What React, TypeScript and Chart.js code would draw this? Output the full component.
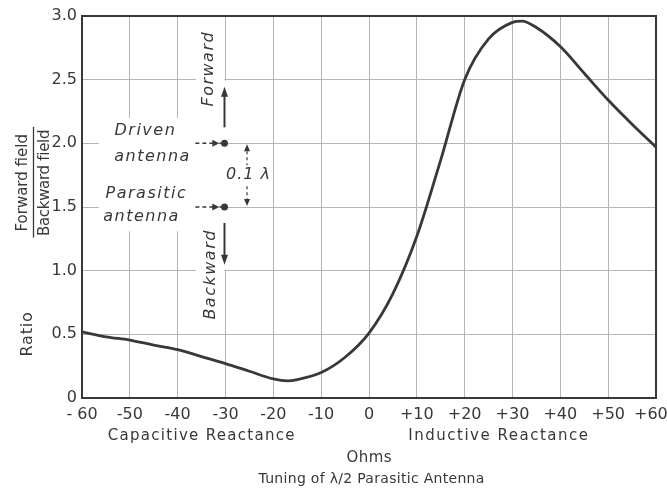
import React, { useEffect, useRef } from "react";
import { Chart, registerables } from "chart.js";

Chart.register(...registerables);

// ---- data ----
const reactanceOhms = [-60, -55, -50, -45, -40, -35, -30, -25, -20, -17, -15, -10, -5, 0, 5, 10, 15, 20, 25, 30, 32, 35, 40, 45, 50, 55, 60];
const ratioValues = [0.52, 0.48, 0.455, 0.415, 0.38, 0.325, 0.27, 0.21, 0.15, 0.135, 0.145, 0.2, 0.32, 0.51, 0.82, 1.27, 1.87, 2.5, 2.82, 2.95, 2.96, 2.91, 2.76, 2.55, 2.34, 2.15, 1.97];
const xTickValues = [-60, -50, -40, -30, -20, -10, 0, 10, 20, 30, 40, 50, 60];
const xTickLabels = ["- 60", "-50", "-40", "-30", "-20", "-10", "0", "+10", "+20", "+30", "+40", "+50", "+60  "];
const yTickValues = [0, 0.5, 1, 1.5, 2, 2.5, 3];
const yTickLabels = ["0", "0.5", "1.0", "1.5", "2.0", "2.5", "3.0"];
const reactanceLabels = ["Capacitive Reactance", "Inductive Reactance"];
const unitLabel = "Ohms";
const captionLabel = "Tuning of λ/2 Parasitic Antenna";
const ratioTitle = "Ratio";
const fractionTop = "Forward field";
const fractionBottom = "Backward field";
const driverLabel = ["Driven", "antenna"];
const parasiticLabel = ["Parasitic", "antenna"];
const forwardLabel = "Forward";
const backwardLabel = "Backward";
const spacingLabel = "0.1 λ";

const INK = "#383838";
const GRID = "#b4b4b4";
const FONT = "'DejaVu Sans', sans-serif";
const TICKFONT = "'DejaVu Sans', sans-serif";

function drawText(ctx: CanvasRenderingContext2D, text: string, x: number, y: number, font: string, spacing: number, rot = 0) {
  ctx.save();
  ctx.font = font;
  (ctx as any).letterSpacing = spacing + "px";
  ctx.fillStyle = INK;
  ctx.textAlign = "center";
  ctx.textBaseline = "middle";
  ctx.translate(x, y);
  if (rot) ctx.rotate(rot);
  ctx.fillText(text, spacing / 2, 0);
  ctx.restore();
}

function arrowHead(ctx: CanvasRenderingContext2D, tx: number, ty: number, dx: number, dy: number, len: number, half: number) {
  const bx = tx - dx * len, by = ty - dy * len;
  const px = -dy, py = dx;
  ctx.beginPath();
  ctx.moveTo(tx, ty);
  ctx.lineTo(bx + px * half, by + py * half);
  ctx.lineTo(bx - px * half, by - py * half);
  ctx.closePath();
  ctx.fill();
}

const annotationPlugin = {
  id: "annotations",
  afterDraw(chart: any) {
    const ctx: CanvasRenderingContext2D = chart.ctx;
    const xs = chart.scales.x;
    const ys = chart.scales.y;
    const X = (v: number) => xs.getPixelForValue(v);
    const Y = (v: number) => ys.getPixelForValue(v);
    const area = chart.chartArea;

    ctx.save();
    ctx.fillStyle = "#ffffff";
    ctx.fillRect(X(-56.5), Y(2.2), X(-36.2) - X(-56.5), Y(1.31) - Y(2.2));
    ctx.fillRect(X(-36.2), Y(2.5) - 1.5, X(-30) - 1 - X(-36.2), Y(1.0) - Y(2.5) + 3);
    ctx.fillRect(X(-30) - 2, Y(2.5) + 1, 4, Y(1.0) - Y(2.5) - 2);

    ctx.strokeStyle = INK;
    ctx.lineWidth = 2;
    ctx.beginPath();
    ctx.moveTo(area.left, area.top);
    ctx.lineTo(area.right, area.top);
    ctx.lineTo(area.right, area.bottom);
    ctx.stroke();

    ctx.fillStyle = INK;
    ctx.strokeStyle = INK;

    const itf = "italic 16px " + FONT;
    drawText(ctx, forwardLabel, X(-33.5), Y(2.58), itf, 1.5, -Math.PI / 2);
    drawText(ctx, backwardLabel, X(-33.1), Y(0.965), itf, 1.5, -Math.PI / 2);

    drawText(ctx, driverLabel[0], X(-46.9), Y(2.1), itf, 1.5);
    drawText(ctx, driverLabel[1], X(-45.4), Y(1.89), itf, 1.5);
    drawText(ctx, parasiticLabel[0], X(-46.7), Y(1.6), itf, 1.5);
    drawText(ctx, parasiticLabel[1], X(-47.7), Y(1.42), itf, 1.5);

    const ax = X(-30) - 1;
    ctx.lineWidth = 2;
    ctx.beginPath();
    ctx.moveTo(ax, Y(2.0) - 16);
    ctx.lineTo(ax, Y(2.5) + 14);
    ctx.stroke();
    arrowHead(ctx, ax, Y(2.5) + 7, 0, -1, 10, 3.5);
    ctx.beginPath();
    ctx.moveTo(ax, Y(1.5) + 16);
    ctx.lineTo(ax, Y(1.0) - 13);
    ctx.stroke();
    arrowHead(ctx, ax, Y(1.0) - 6, 0, 1, 10, 3.5);

    [2.0, 1.5].forEach((lv) => {
      const yy = Y(lv);
      ctx.lineWidth = 1.5;
      ctx.setLineDash([4, 3]);
      ctx.beginPath();
      ctx.moveTo(X(-36.3), yy);
      ctx.lineTo(X(-32.3), yy);
      ctx.stroke();
      ctx.setLineDash([]);
      arrowHead(ctx, X(-31.3), yy, 1, 0, 7, 3.5);
      ctx.beginPath();
      ctx.moveTo(X(-31.3), yy);
      ctx.lineTo(ax, yy);
      ctx.stroke();
      ctx.beginPath();
      ctx.arc(ax, yy, 3.5, 0, Math.PI * 2);
      ctx.fill();
    });

    const dx = X(-25.5);
    ctx.lineWidth = 1.2;
    arrowHead(ctx, dx, Y(2.0) + 1, 0, -1, 7, 3);
    arrowHead(ctx, dx, Y(1.5) - 1, 0, 1, 7, 3);
    ctx.setLineDash([3, 3]);
    ctx.beginPath();
    ctx.moveTo(dx, Y(2.0) + 8);
    ctx.lineTo(dx, Y(1.75) - 10);
    ctx.moveTo(dx, Y(1.75) + 11);
    ctx.lineTo(dx, Y(1.5) - 8);
    ctx.stroke();
    ctx.setLineDash([]);
    drawText(ctx, spacingLabel, X(-25.3), Y(1.75), "italic 16px " + FONT, 1);

    const tf = "15px " + FONT;
    drawText(ctx, ratioTitle, 28, Y(0.5), "16px " + FONT, 0.8, -Math.PI / 2);
    drawText(ctx, fractionTop, 23, Y(1.69), tf, 0, -Math.PI / 2);
    drawText(ctx, fractionBottom, 45, Y(1.69), tf, -0.3, -Math.PI / 2);
    ctx.lineWidth = 1.3;
    ctx.beginPath();
    ctx.moveTo(33.5, Y(2.13));
    ctx.lineTo(33.5, Y(1.26));
    ctx.stroke();

    const bf = "15px " + FONT;
    drawText(ctx, reactanceLabels[0], X(-35.1), 436, bf, 1.3);
    drawText(ctx, reactanceLabels[1], X(27), 436, bf, 1.5);
    drawText(ctx, unitLabel, X(0), 458, bf, 0.5);
    drawText(ctx, captionLabel, X(0.5), 479, "14px " + FONT, 0.3);

    ctx.restore();
  },
};

export default function App() {
  const ref = useRef<HTMLCanvasElement | null>(null);

  useEffect(() => {
    document.body.style.margin = "0";
    const canvas = ref.current!;
    const chart = new Chart(canvas, {
      type: "line",
      data: {
        datasets: [
          {
            data: reactanceOhms.map((x, i) => ({ x, y: ratioValues[i] })),
            borderColor: INK,
            borderWidth: 2.8,
            pointRadius: 0,
            cubicInterpolationMode: "monotone",
            fill: false,
          },
        ],
      },
      options: {
        animation: false,
        responsive: false,
        devicePixelRatio: 1,
        layout: { padding: { left: 0, top: 16, right: 11, bottom: 0 } },
        plugins: { legend: { display: false }, tooltip: { enabled: false }, title: { display: false } },
        scales: {
          x: {
            type: "linear",
            min: -60,
            max: 60,
            afterBuildTicks: (scale: any) => {
              scale.ticks = xTickValues.map((v) => ({ value: v }));
            },
            afterFit: (scale: any) => {
              scale.height = 93;
              scale.paddingLeft = 0;
              scale.paddingRight = 0;
            },
            ticks: {
              autoSkip: false,
              maxRotation: 0,
              padding: 7,
              color: INK,
              font: { family: TICKFONT, size: 16 },
              callback: (v: any) => xTickLabels[xTickValues.indexOf(Number(v))] ?? "",
            },
            grid: { color: GRID, lineWidth: 1, drawTicks: false },
            border: { color: INK, width: 2 },
          },
          y: {
            type: "linear",
            min: 0,
            max: 3,
            afterBuildTicks: (scale: any) => {
              scale.ticks = yTickValues.map((v) => ({ value: v }));
            },
            afterFit: (scale: any) => {
              scale.width = 82;
              scale.paddingTop = 0;
              scale.paddingBottom = 0;
            },
            ticks: {
              padding: 5,
              color: INK,
              font: { family: TICKFONT, size: 16 },
              callback: (v: any) => yTickLabels[yTickValues.indexOf(Number(v))] ?? "",
            },
            grid: { color: GRID, lineWidth: 1, drawTicks: false },
            border: { color: INK, width: 2 },
          },
        },
      } as any,
      plugins: [annotationPlugin],
    });
    return () => chart.destroy();
  }, []);

  return (
    <div style={{ position: "absolute", left: 0, top: 0, width: 667, height: 491, background: "#fff" }}>
      <canvas ref={ref} width={667} height={491} style={{ width: 667, height: 491, display: "block" }} />
    </div>
  );
}
